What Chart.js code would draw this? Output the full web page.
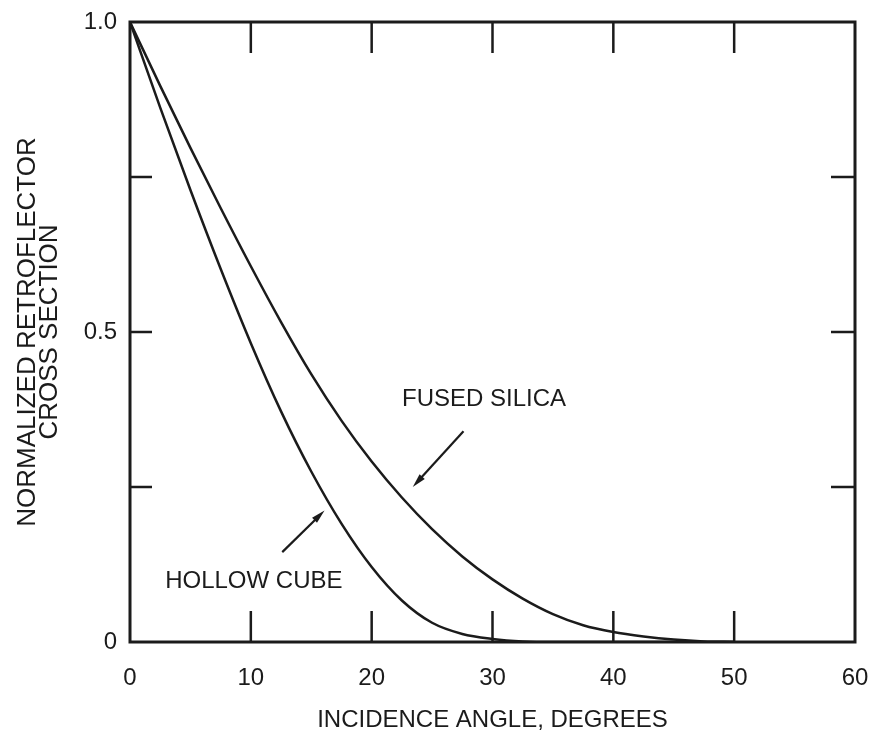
<!DOCTYPE html>
<html>
<head>
<meta charset="utf-8">
<script src="https://cdn.jsdelivr.net/npm/chart.js@4"></script>
<style>
  html, body { margin: 0; padding: 0; background: #fff; }
  #wrap { width: 872px; height: 740px; }
</style>
</head>
<body>
<div id="wrap"><canvas id="retroChart"></canvas></div>
<script>
// angles (degrees)
const angles = [0, 2.5, 5, 7.5, 10, 12.5, 15, 17.5, 20, 22.5, 25, 27.5, 30, 32.5, 35, 37.5, 40, 42.5, 45, 47.5, 50];
const hollowCube = [1.0, 0.862, 0.729, 0.602, 0.482, 0.372, 0.275, 0.191, 0.121, 0.067, 0.031, 0.013, 0.005, 0.001, 0, 0, 0, 0, 0, 0, 0];
const fusedSilica = [1.0, 0.897, 0.797, 0.700, 0.606, 0.516, 0.432, 0.357, 0.291, 0.233, 0.182, 0.138, 0.101, 0.070, 0.045, 0.027, 0.016, 0.009, 0.004, 0.001, 0];

const xTicks = [0, 10, 20, 30, 40, 50, 60];
const yLabelled = [0, 0.5, 1.0];

// labels on the curves: text, centre, arrow tail, arrow head (data coords)
const notes = [
  { text: 'FUSED SILICA', at: [29.3, 0.392], tail: [27.6, 0.340], head: [23.4, 0.250] },
  { text: 'HOLLOW CUBE', at: [10.25, 0.098], tail: [12.6, 0.145], head: [16.1, 0.212] }
];

const ink = '#1b1b1b';
const fontFam = '"Liberation Sans", Arial, Helvetica, sans-serif';

const toPts = (ys) => angles.map((a, i) => ({ x: a, y: ys[i] }));

// box round the plot with inward tick marks
const frameTicks = {
  id: 'frameTicks',
  afterDraw(chart) {
    const { ctx, chartArea: a, scales: { x, y } } = chart;
    ctx.save();
    ctx.strokeStyle = ink;
    ctx.lineWidth = 2.5;
    ctx.beginPath();
    x.ticks.forEach(t => {
      if (t.value <= x.min || t.value >= x.max) return;
      const px = x.getPixelForValue(t.value);
      ctx.moveTo(px, a.bottom); ctx.lineTo(px, a.bottom - 31);
      ctx.moveTo(px, a.top); ctx.lineTo(px, a.top + 31);
    });
    y.ticks.forEach(t => {
      if (t.value <= y.min || t.value >= y.max) return;
      const py = y.getPixelForValue(t.value);
      ctx.moveTo(a.left, py); ctx.lineTo(a.left + 22, py);
      ctx.moveTo(a.right, py); ctx.lineTo(a.right - 24, py);
    });
    ctx.stroke();
    ctx.lineWidth = 3;
    ctx.strokeRect(a.left, a.top, a.right - a.left, a.bottom - a.top);
    ctx.restore();
  }
};

// curve labels with arrows
const curveNotes = {
  id: 'curveNotes',
  afterDatasetsDraw(chart) {
    const { ctx, scales: { x, y } } = chart;
    ctx.save();
    ctx.fillStyle = ink;
    ctx.strokeStyle = ink;
    ctx.font = '24px ' + fontFam;
    ctx.textAlign = 'center';
    ctx.textBaseline = 'middle';
    notes.forEach(n => {
      ctx.fillText(n.text, x.getPixelForValue(n.at[0]), y.getPixelForValue(n.at[1]));
      const x1 = x.getPixelForValue(n.tail[0]), y1 = y.getPixelForValue(n.tail[1]);
      const x2 = x.getPixelForValue(n.head[0]), y2 = y.getPixelForValue(n.head[1]);
      const ang = Math.atan2(y2 - y1, x2 - x1);
      ctx.lineWidth = 2.2;
      ctx.beginPath();
      ctx.moveTo(x1, y1);
      ctx.lineTo(x2 - 8 * Math.cos(ang), y2 - 8 * Math.sin(ang));
      ctx.stroke();
      ctx.beginPath();
      ctx.moveTo(x2, y2);
      ctx.lineTo(x2 - 14 * Math.cos(ang) + 3.5 * Math.sin(ang), y2 - 14 * Math.sin(ang) - 3.5 * Math.cos(ang));
      ctx.lineTo(x2 - 14 * Math.cos(ang) - 3.5 * Math.sin(ang), y2 - 14 * Math.sin(ang) + 3.5 * Math.cos(ang));
      ctx.closePath();
      ctx.fill();
    });
    ctx.restore();
  }
};

new Chart(document.getElementById('retroChart'), {
  type: 'line',
  data: {
    datasets: [
      { label: 'Hollow cube', data: toPts(hollowCube) },
      { label: 'Fused silica', data: toPts(fusedSilica) }
    ]
  },
  options: {
    responsive: true,
    maintainAspectRatio: false,
    animation: false,
    layout: { padding: { top: 22, right: 17, left: 0, bottom: 0 } },
    elements: {
      line: { borderColor: ink, borderWidth: 2.5, cubicInterpolationMode: 'monotone', fill: false },
      point: { radius: 0 }
    },
    plugins: {
      legend: { display: false },
      tooltip: { enabled: false }
    },
    scales: {
      x: {
        type: 'linear',
        min: 0,
        max: 60,
        afterBuildTicks: (s) => { s.ticks = xTicks.map(v => ({ value: v })); },
        afterFit: (s) => { s.height = 98; s.paddingLeft = 0; s.paddingRight = 0; },
        grid: { display: false, drawTicks: false },
        border: { display: false },
        ticks: {
          color: ink,
          padding: 22,
          maxRotation: 0,
          font: { family: fontFam, size: 24 }
        },
        title: {
          display: true,
          text: 'INCIDENCE ANGLE, DEGREES',
          color: ink,
          font: { family: fontFam, size: 24 },
          padding: { top: 0, bottom: 5 }
        }
      },
      y: {
        type: 'linear',
        min: 0,
        max: 1,
        afterFit: (s) => { s.width = 130; s.paddingTop = 0; s.paddingBottom = 0; },
        grid: { display: false, drawTicks: false },
        border: { display: false },
        ticks: {
          stepSize: 0.25,
          color: ink,
          padding: 13,
          font: { family: fontFam, size: 24 },
          callback: (v) => yLabelled.includes(v) ? (v === 0 ? '0' : v.toFixed(1)) : ''
        },
        title: {
          display: true,
          text: ['NORMALIZED RETROFLECTOR', 'CROSS SECTION'],
          color: ink,
          font: { family: fontFam, size: 26, lineHeight: 0.85 },
          padding: { top: 17, bottom: 0 }
        }
      }
    }
  },
  plugins: [frameTicks, curveNotes]
});
</script>
</body>
</html>
